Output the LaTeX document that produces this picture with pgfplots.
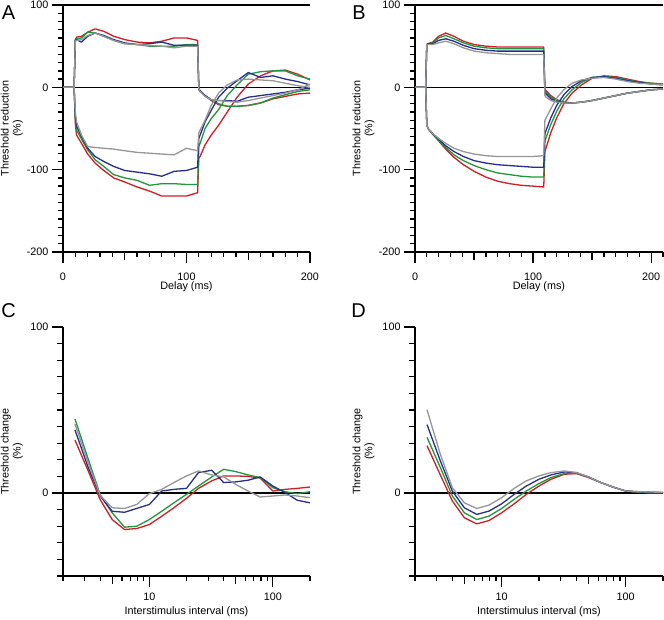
\documentclass[border=0pt]{standalone}
\usepackage{pgfplots}
\pgfplotsset{compat=1.18}
\usepackage{fontspec}
\setmainfont{Liberation Sans}
\definecolor{cred}{RGB}{205,32,38}
\definecolor{cgreen}{RGB}{34,150,60}
\definecolor{cblue}{RGB}{38,48,140}
\definecolor{cgray}{RGB}{150,150,150}
\tikzset{tk/.style={black, line width=1.3pt}}
\pgfplotsset{
 base/.style={scale only axis, width=247pt, height=247pt, anchor=south west,
  axis x line*=bottom, axis y line*=left, axis line style={-, line width=1.2pt},
  xtick align=outside, ytick align=outside, major tick length=11pt, minor tick length=5pt,
  xtick style={draw=black, line width=1.1pt}, ytick style={draw=black, line width=1.1pt},
  tick label style={font=\fontsize{10.8}{12}\selectfont},
  label style={font=\fontsize{10.8}{12}\selectfont},
  /pgf/number format/assume math mode=true,
  every axis plot/.append style={line width=1.3pt, line join=round, no markers},
  ylabel style={at={(axis description cs:-0.207,0.5)}, anchor=center, align=center},
  xlabel style={at={(axis description cs:0.5,-0.142)}, anchor=center},
  extra y tick labels={}, extra y tick style={grid=major, major grid style={black, line width=1.2pt}},
 },
 te/.style={base, ymin=-200, ymax=100, xmin=0,
  ytick={-200,-100,0,100}, yticklabels={-200,-100,0,100},
  xtick={0,100,200}, xticklabels={0,100,200},
  xticklabel shift=6pt,
  extra y ticks={0,100}, ylabel={Threshold reduction\\(\%)}, xlabel={Delay (ms)}},
 rc/.style={base, xmin=2, xmax=200, ymin=-50, ymax=100,
  ytick={0,100}, yticklabels={0,100},
  xtick={10,100}, xticklabels={10,100},
  xticklabel shift=2pt,
  extra y ticks={0},
  ylabel={Threshold change\\(\%)}, xlabel={Interstimulus interval (ms)}},
}
\begin{document}
\begin{tikzpicture}
\path[use as bounding box] (0pt,0pt) rectangle (664pt,-619pt);
\node[font=\fontsize{20}{22}\selectfont] at (8.5pt,-12.5pt) {A};
\node[font=\fontsize{20}{22}\selectfont] at (359pt,-12.5pt) {B};
\node[font=\fontsize{20}{22}\selectfont] at (8.5pt,-311pt) {C};
\node[font=\fontsize{20}{22}\selectfont] at (358.5pt,-311pt) {D};
% ---------------- A
\begin{axis}[te, at={(63pt,-252pt)}, xmax=200]
\addplot[cred] coordinates {(0,0)(9,0)(10,58)(11,61)(15,62)(20,67)(26,71)(33,68)(41,62)(50,58)(60,55)(70,54)(80,56)(90,60)(100,60)(109,57)(110,-2)(111,-4)(115,-10)(120,-16)(126,-21)(133,-23)(141,-23)(150,-22)(160,-19)(170,-14)(180,-11)(190,-8)(200,-7)};
\addplot[cred] coordinates {(0,0)(9,0)(10,-45)(11,-58)(15,-68)(20,-81)(26,-92)(33,-101)(41,-110)(50,-115)(60,-121)(70,-126)(80,-132)(90,-132)(100,-132)(109,-128)(110,-86)(111,-84)(115,-70)(120,-58)(126,-46)(133,-30)(141,-12)(150,4)(160,14)(170,20)(180,21)(190,16)(200,9)};
\addplot[cgreen] coordinates {(0,0)(9,0)(10,57)(11,59)(15,60)(20,67)(26,66)(33,62)(41,57)(50,53)(60,52)(70,50)(80,50)(90,50)(100,52)(109,52)(110,-3)(111,-5)(115,-10)(120,-15)(126,-20)(133,-23)(141,-23)(150,-22)(160,-19)(170,-13)(180,-9)(190,-5)(200,-3)};
\addplot[cgreen] coordinates {(0,0)(9,0)(10,-40)(11,-52)(15,-63)(20,-76)(26,-88)(33,-96)(41,-106)(50,-110)(60,-113)(70,-119)(80,-117)(90,-117)(100,-118)(109,-118)(110,-72)(111,-68)(115,-50)(120,-38)(126,-27)(133,-10)(141,3)(150,16)(160,19)(170,20)(180,20)(190,14)(200,10)};
\addplot[cblue] coordinates {(0,0)(9,0)(10,57)(11,58)(15,55)(20,62)(26,66)(33,63)(41,58)(50,54)(60,52)(70,53)(80,55)(90,51)(100,51)(109,51)(110,-2)(111,-4)(115,-10)(120,-15)(126,-16)(133,-16)(141,-17)(150,-12)(160,-10)(170,-8)(180,-6)(190,-3)(200,-1)};
\addplot[cblue] coordinates {(0,0)(9,0)(10,-35)(11,-47)(15,-60)(20,-74)(26,-84)(33,-90)(41,-96)(50,-101)(60,-103)(70,-105)(80,-108)(90,-102)(100,-101)(109,-97)(110,-62)(111,-58)(115,-42)(120,-28)(126,-12)(133,-1)(141,8)(150,18)(160,12)(170,14)(180,10)(190,7)(200,3)};
\addplot[cgray] coordinates {(0,0)(9,0)(10,56)(11,57)(15,58)(20,63)(26,66)(33,62)(41,57)(50,53)(60,52)(70,51)(80,50)(90,48)(100,50)(109,50)(110,-2)(111,-5)(115,-11)(120,-15)(126,-16)(133,-17)(141,-18)(150,-16)(160,-13)(170,-10)(180,-7)(190,-3)(200,4)};
\addplot[cgray] coordinates {(0,0)(9,0)(10,-30)(11,-42)(15,-58)(20,-72)(26,-73)(33,-74)(41,-75)(50,-77)(60,-79)(70,-80)(80,-81)(90,-82)(100,-74)(109,-77)(110,-55)(111,-52)(115,-40)(120,-22)(126,-7)(133,3)(141,9)(150,10)(160,9)(170,8)(180,5)(190,2)(200,0)};
\end{axis}
% ---------------- B
\begin{axis}[te, at={(415pt,-252pt)}, width=248pt, xmax=210]
\addplot[cred] coordinates {(0,0)(9,0)(10,52)(11,53)(15,55)(20,62)(26,66)(33,62)(41,56)(50,52)(60,50)(70,49)(80,49)(90,49)(100,49)(109,49)(110,-3)(111,-4)(115,-10)(120,-15)(126,-18)(133,-19)(141,-18)(150,-16)(160,-13)(170,-10)(180,-7)(190,-5)(200,-3)(210,-2)};
\addplot[cred] coordinates {(0,0)(9,0)(10,-45)(11,-50)(15,-57)(20,-65)(26,-75)(33,-85)(41,-94)(50,-102)(60,-109)(70,-114)(80,-117)(90,-119)(100,-120)(109,-121)(110,-78)(115,-55)(120,-37)(126,-20)(133,-7)(141,3)(150,11)(160,14)(170,13)(180,10)(190,7)(200,5)(210,4)};
\addplot[cgreen] coordinates {(0,0)(9,0)(10,52)(11,53)(15,54)(20,60)(26,63)(33,59)(41,54)(50,50)(60,48)(70,47)(80,47)(90,47)(100,47)(109,47)(110,-5)(111,-6)(115,-12)(120,-16)(126,-18)(133,-19)(141,-18)(150,-16)(160,-13)(170,-10)(180,-7)(190,-5)(200,-3)(210,-2)};
\addplot[cgreen] coordinates {(0,0)(9,0)(10,-45)(11,-50)(15,-57)(20,-64)(26,-73)(33,-82)(41,-89)(50,-95)(60,-100)(70,-104)(80,-106)(90,-108)(100,-109)(109,-109)(110,-65)(115,-45)(120,-29)(126,-14)(133,-3)(141,6)(150,12)(160,13)(170,12)(180,9)(190,6)(200,5)(210,4)};
\addplot[cblue] coordinates {(0,0)(9,0)(10,52)(11,53)(15,53)(20,57)(26,59)(33,56)(41,51)(50,47)(60,45)(70,44)(80,44)(90,44)(100,44)(109,44)(110,-7)(111,-8)(115,-14)(120,-17)(126,-19)(133,-19)(141,-18)(150,-16)(160,-13)(170,-10)(180,-7)(190,-5)(200,-3)(210,-2)};
\addplot[cblue] coordinates {(0,0)(9,0)(10,-45)(11,-50)(15,-56)(20,-63)(26,-71)(33,-78)(41,-84)(50,-89)(60,-92)(70,-94)(80,-95)(90,-96)(100,-97)(109,-97)(110,-56)(115,-37)(120,-22)(126,-9)(133,1)(141,8)(150,12)(160,13)(170,11)(180,8)(190,6)(200,4)(210,3)};
\addplot[cgray] coordinates {(0,0)(9,0)(10,52)(11,52)(15,52)(20,54)(26,56)(33,53)(41,48)(50,44)(60,42)(70,41)(80,40)(90,40)(100,40)(109,40)(110,-10)(111,-12)(115,-16)(120,-18)(126,-19)(133,-19)(141,-18)(150,-16)(160,-13)(170,-10)(180,-7)(190,-5)(200,-3)(210,-2)};
\addplot[cgray] coordinates {(0,0)(9,0)(10,-45)(11,-50)(15,-56)(20,-62)(26,-68)(33,-74)(41,-78)(50,-81)(60,-83)(70,-84)(80,-84)(90,-84)(100,-84)(109,-83)(110,-40)(115,-26)(120,-13)(126,-3)(133,5)(141,9)(150,11)(160,12)(170,10)(180,7)(190,5)(200,4)(210,3)};
\end{axis}
% ---------------- C
\begin{semilogxaxis}[rc, at={(63pt,-576pt)}, height=249pt]
\addplot[cred] coordinates {(2.5,31.9)(3.2,13.3)(4,-4)(5,-16)(6.3,-22)(7.9,-21.4)(10,-19)(12.6,-14)(15.8,-8.9)(20,-3.2)(25,2.8)(32,7.3)(40,10.3)(50,10.3)(63,10)(79,9)(100,1.2)(126,2.2)(158,2.8)(200,3.6)};
\addplot[cgreen] coordinates {(2.5,44.6)(3.2,20.4)(4,-1)(5,-11.9)(6.3,-20.6)(7.9,-20)(10,-16)(12.6,-11)(15.8,-5.9)(20,-0.8)(25,4.2)(32,9.7)(40,14.3)(50,12.9)(63,10.9)(79,9.3)(100,3.2)(126,0.8)(158,-0.4)(200,0.8)};
\addplot[cblue] coordinates {(2.5,38)(3.2,15.4)(4,-1.8)(5,-11)(6.3,-11.6)(7.9,-9.3)(10,-6.9)(12.6,1.2)(15.8,2.2)(20,2.8)(25,12.3)(32,13.7)(40,6.3)(50,6.7)(63,7.7)(79,9.7)(100,4.2)(126,0.2)(158,-4.4)(200,-5.9)};
\addplot[cgray] coordinates {(2.5,41.6)(3.2,18)(4,-1.4)(5,-8.9)(6.3,-9.3)(7.9,-6.9)(10,-0.4)(12.6,2.2)(15.8,6.3)(20,10.3)(25,13.3)(32,10.9)(40,9.7)(50,5.2)(63,1.2)(79,-2.4)(100,-1.8)(126,-1.2)(158,-1.8)(200,-2.8)};
\end{semilogxaxis}
% ---------------- D
\begin{semilogxaxis}[rc, at={(415pt,-576pt)}, width=248pt, height=249pt]
\addplot[cred] coordinates {(2.5,28.5)(3.2,10.9)(4,-4.8)(5,-14.9)(6.3,-18.6)(7.9,-16.6)(10,-11.9)(12.6,-6.5)(15.8,-0.8)(20,4.2)(25,8.3)(32,11.3)(40,11.7)(50,9.3)(63,6.3)(79,3.6)(100,1.2)(126,0.4)(158,0)(200,0)};
\addplot[cgreen] coordinates {(2.5,33.5)(3.2,15.4)(4,-1.8)(5,-11.9)(6.3,-16)(7.9,-13.9)(10,-9.3)(12.6,-3.8)(15.8,1.2)(20,5.7)(25,9.3)(32,11.7)(40,12.1)(50,9.7)(63,6.3)(79,3.6)(100,1.2)(126,0.6)(158,0.3)(200,0.2)};
\addplot[cblue] coordinates {(2.5,41.2)(3.2,19.4)(4,1.2)(5,-8.9)(6.3,-12.9)(7.9,-10.9)(10,-6.5)(12.6,-0.8)(15.8,4.2)(20,8.3)(25,10.9)(32,12.7)(40,12.3)(50,9.7)(63,6.3)(79,3.6)(100,1.2)(126,0.8)(158,0.5)(200,0.3)};
\addplot[cgray] coordinates {(2.5,50.1)(3.2,23.4)(4,3.2)(5,-5.9)(6.3,-9.3)(7.9,-7.3)(10,-2.8)(12.6,2.8)(15.8,7.3)(20,10.3)(25,12.3)(32,13.3)(40,12.3)(50,9.7)(63,6.3)(79,3.6)(100,1.2)(126,0.8)(158,0.6)(200,0.4)};
\end{semilogxaxis}
% ---------------- tick marks (axis decoration, positions in pt)
\foreach \L in {63,415}{
 \foreach \v in {-190,-180,...,90} \draw[tk] (\L pt,{(-252+(\v+200)/300*247)*1pt}) -- ++(-5pt,0pt);
 \foreach \v in {-200,-100,0,100} \draw[tk] (\L pt,{(-252+(\v+200)/300*247)*1pt}) -- ++(-11pt,0pt);
 \foreach \v in {-50,-40,-30,-20,-10,10,20,30,40,50,60,70,80,90} \draw[tk] (\L pt,{(-576+(\v+50)/150*249)*1pt}) -- ++(-6pt,0pt);
 \foreach \v in {0,100} \draw[tk] (\L pt,{(-576+(\v+50)/150*249)*1pt}) -- ++(-11pt,0pt);
}
\foreach \v in {10,20,...,190} \draw[tk] ({(63+\v/200*247)*1pt},-252pt) -- ++(0pt,-5pt);
\foreach \v in {50,150} \draw[tk] ({(63+\v/200*247)*1pt},-252pt) -- ++(0pt,-8pt);
\foreach \v in {0,100,200} \draw[tk] ({(63+\v/200*247)*1pt},-252pt) -- ++(0pt,-11pt);
\foreach \v in {10,20,...,210} \draw[tk] ({(415+\v/210*248)*1pt},-252pt) -- ++(0pt,-5pt);
\foreach \v in {50,150} \draw[tk] ({(415+\v/210*248)*1pt},-252pt) -- ++(0pt,-8pt);
\foreach \v in {0,100,200} \draw[tk] ({(415+\v/210*248)*1pt},-252pt) -- ++(0pt,-11pt);
% log axes: offsets of 2,3,4,6,7,8,9,20,30,40,60,70,80,90,200 ; 5,50 ; 10,100
\foreach \o in {0,21.75,37.18,58.92,67.19,74.35,80.67,123.5,145.25,160.68,182.42,190.69,197.85,204.17,247} \draw[tk] ({(63+\o)*1pt},-576pt) -- ++(0pt,-5pt);
\foreach \o in {49.15,172.65} \draw[tk] ({(63+\o)*1pt},-576pt) -- ++(0pt,-8pt);
\foreach \o in {86.32,209.82} \draw[tk] ({(63+\o)*1pt},-576pt) -- ++(0pt,-11pt);
\foreach \o in {0,21.84,37.33,59.16,67.46,74.65,81.0,124,145.84,161.33,183.16,191.46,198.66,205.0,248} \draw[tk] ({(415+\o)*1pt},-576pt) -- ++(0pt,-5pt);
\foreach \o in {49.34,173.34} \draw[tk] ({(415+\o)*1pt},-576pt) -- ++(0pt,-8pt);
\foreach \o in {86.67,210.67} \draw[tk] ({(415+\o)*1pt},-576pt) -- ++(0pt,-11pt);
\end{tikzpicture}
\end{document}
